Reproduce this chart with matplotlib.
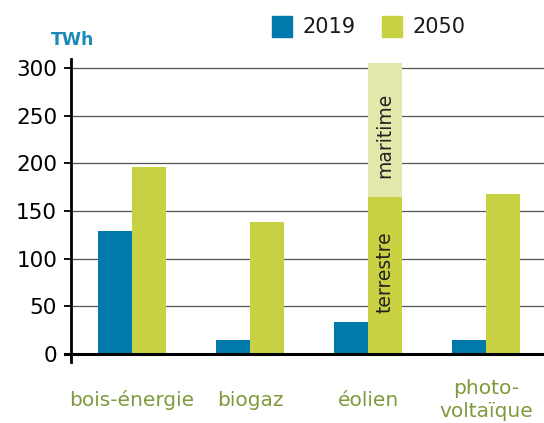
import numpy as np
import matplotlib
matplotlib.use("Agg")
import matplotlib.pyplot as plt
from matplotlib.patches import Rectangle
from matplotlib.transforms import blended_transform_factory

# data (TWh)
categories = ["bois-énergie", "biogaz", "éolien", "photo-\nvoltaïque"]
values_2019 = [129, 15, 34, 15]
values_2050 = [196, 139, 165, 168]     # éolien: terrestre part only
eolien_maritime_2050 = 140             # stacked on top of terrestre
yticks = [0, 50, 100, 150, 200, 250, 300]

BLUE = "#0079ab"
GREEN = "#c8d142"
LIGHT_GREEN = "#e2e7ac"
LABEL_GREEN = "#7f9a3c"
TWH_BLUE = "#1b8ab9"

W, H = 544, 423
plt.rcParams["font.family"] = ["DejaVu Sans"]

fig = plt.figure(figsize=(W / 100, H / 100), dpi=100)
ax = fig.add_axes([0.1305, 0.1452, 0.8695, 0.7163])

x = np.arange(len(categories))
w = 0.29
ax.bar(x - w / 2, values_2019, w, color=BLUE, zorder=3)
ax.bar(x + w / 2, values_2050, w, color=GREEN, zorder=3)
ax.bar(x[2] + w / 2, eolien_maritime_2050, w, bottom=values_2050[2],
       color=LIGHT_GREEN, zorder=3)

ax.text(x[2] + w / 2, 86, "terrestre", rotation=90,
        ha="center", va="center", fontsize=13.5, color="#222222", zorder=4)
ax.text(x[2] + w / 2, 229, "maritime", rotation=90,
        ha="center", va="center", fontsize=13.5, color="#222222", zorder=4)

ax.set_xlim(-0.517, 3.49)
ax.set_ylim(-8, 310)
ax.set_yticks(yticks)
ax.set_yticklabels([str(t) for t in yticks], fontsize=15.5)
ax.tick_params(axis="y", length=5, width=1.3, color="black", pad=5)
ax.set_xticks([])

for t in yticks[1:]:
    ax.axhline(t, color="#555555", linewidth=0.9, zorder=1)
ax.axhline(0, color="black", linewidth=2.2, zorder=4, xmin=-0.012, clip_on=False)

for s in ["top", "right", "bottom"]:
    ax.spines[s].set_visible(False)
ax.spines["left"].set_linewidth(2.0)

# category labels (x in data, y in figure pixels from top)
tr = blended_transform_factory(ax.transData, fig.transFigure)
for xi, lab in zip(x, categories):
    lines = lab.split("\n")
    base = 406 if len(lines) == 1 else 394
    for k, line in enumerate(lines):
        ax.text(xi, 1 - (base + 23 * k) / H, line, transform=tr,
                ha="center", va="baseline", fontsize=14.5,
                color=LABEL_GREEN, clip_on=False)

fig.text(51 / W, 1 - 45 / H, "TWh", fontsize=12.5, fontweight="bold",
         color=TWH_BLUE, ha="left", va="baseline")

# legend
for px, col, lab in [(272, BLUE, "2019"), (382, GREEN, "2050")]:
    fig.patches.append(Rectangle((px / W, 1 - 37 / H), 20 / W, 21 / H,
                                 transform=fig.transFigure, color=col))
    fig.text((px + 30) / W, 1 - 27 / H, lab, fontsize=15,
             ha="left", va="center", color="#1a1a1a")

fig.savefig("out.png", dpi=100)
